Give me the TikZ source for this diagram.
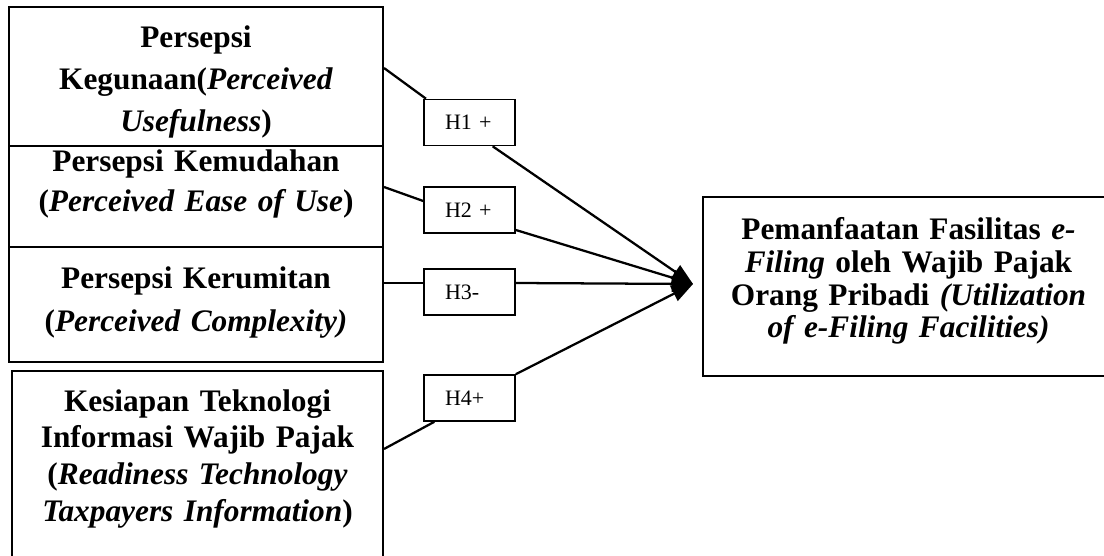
\documentclass[tikz,border=0pt]{standalone}
\usepackage{fontspec}
\setmainfont{Liberation Serif}
\usetikzlibrary{arrows.meta,calc}
\begin{document}
\begin{tikzpicture}[x=0.75pt,y=-0.75pt,
  bigbox/.style={draw=black,line width=1.5pt,rectangle,inner sep=0pt},
  bigtext/.style={anchor=base,align=center,text width=278pt,inner sep=0pt,
    font=\fontsize{23.5}{#1}\selectfont\bfseries},
  hbox/.style={draw=black,line width=1.2pt,rectangle,inner xsep=15.75pt,inner ysep=0pt,
    text width=36.75pt,align=left,minimum height=34.5pt,
    font=\fontsize{16.5}{19}\selectfont},
  link/.style={line width=1.7pt},
  arr/.style={line width=1.7pt,-{Triangle[length=16pt,width=12pt]}}]
\useasboundingbox (0,0) rectangle (1104,556);
\clip (0,0) rectangle (1104,556);
% left boxes
\node[bigbox,minimum width=280.5pt,minimum height=104.25pt] (b1) at (196,76.5) {};
\node[bigbox,minimum width=280.5pt,minimum height=75.75pt] (b2) at (196,196.5) {};
\node[bigbox,minimum width=280.5pt,minimum height=86.25pt] (b3) at (196,304.5) {};
\node[bigbox,minimum width=278.25pt,minimum height=171.75pt] (b4) at (197.5,485.5) {};
\node[bigbox,minimum width=308.25pt,minimum height=134.25pt] (rb) at (908.5,286.5) {};
% texts
\node[bigtext=31.5pt] (t1) at (196,48) {Persepsi\\Kegunaan(\textit{Perceived}\\\textit{Usefulness})};
\node[bigtext=30pt] (t2) at (196,172) {Persepsi Kemudahan\\(\textit{Perceived Ease of Use})};
\node[bigtext=32pt] (t3) at (196,289) {Persepsi Kerumitan\\(\textit{Perceived Complexity)}};
\node[bigtext=27.5pt] (t4) at (197.5,411) {Kesiapan Teknologi\\Informasi Wajib Pajak\\(\textit{Readiness Technology}\\\textit{Taxpayers Information})};
\node[bigtext=24.5pt] (tr) at (908.5,240) {Pemanfaatan Fasilitas \textit{e-}\\\textit{Filing} oleh Wajib Pajak\\Orang Pribadi \textit{(Utilization}\\\textit{of e-Filing Facilities)}};
% hypothesis boxes
\node[hbox] (h1) at (469.5,122.5) {H1 +};
\node[hbox] (h2) at (469.5,210) {H2 +};
\node[hbox] (h3) at (469.5,292) {H3-};
\node[hbox] (h4) at (469.5,398) {H4+};
\coordinate (tip) at (693,284);
% connectors
\draw[link] (b1.east |- 0,68) -- ($(h1.north west)!0.03!(h1.north east)$);
\draw[arr] ($(h1.south west)!0.75!(h1.south east)$) -- (tip);
\draw[link] (b2.east |- 0,187) -- (h2.west |- 0,201);
\draw[arr] (h2.east |- 0,230) -- (tip);
\draw[link] (b3.east |- 0,283) -- (h3.west |- 0,283);
\draw[arr] (h3.east |- 0,283) -- (tip);
\draw[link] (b4.east |- 0,449) -- ($(h4.south west)!0.12!(h4.south east)$);
\draw[arr] (h4.north east) -- (tip);
\end{tikzpicture}
\end{document}
